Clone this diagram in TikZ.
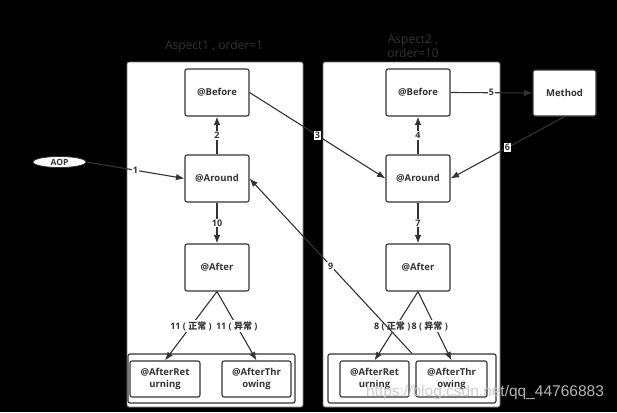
\documentclass[tikz,border=0pt]{standalone}
\usepackage{fontspec}
\setmainfont{Open Sans}
\newfontfamily\cjk{Noto Sans CJK SC}
\newfontfamily\wmfont{Liberation Sans}
\usetikzlibrary{shapes.geometric,arrows.meta}
\definecolor{lc}{RGB}{51,51,51}
\definecolor{tc}{RGB}{52,52,52}
\definecolor{wm}{RGB}{200,200,200}
\begin{document}
\begin{tikzpicture}[x=1pt,y=-1pt,
  box/.style={draw=lc, line width=1.1pt, fill=white, rounded corners=2pt,
    font=\bfseries\fontsize{9.5}{11.5}\selectfont, text=lc, align=center, inner sep=0pt},
  cont/.style={draw=lc!70, fill=white, line width=0.8pt, rounded corners=2pt, inner sep=0pt},
  grp/.style={draw=lc, fill=white, line width=1.1pt, rounded corners=2pt, inner sep=0pt},
  arr/.style={draw=lc, line width=1.1pt, -{Latex[length=8.5pt,width=6.5pt]}},
  lab/.style={fill=white, inner sep=1pt, font=\bfseries\fontsize{9}{10}\selectfont, text=lc},
  ttl/.style={text=tc, font=\fontsize{12}{14.5}\selectfont, align=center, inner sep=0pt},
]
\fill[black] (0,0) rectangle (617,412);
\useasboundingbox (0,0) rectangle (617,412);

% containers
\node[cont, minimum width=176pt, minimum height=345pt] (asp1) at (215,234.5) {};
\node[cont, minimum width=177pt, minimum height=345pt] (asp2) at (411.5,234.5) {};
\node[ttl] (t1) at (214,46) {Aspect1 , order=1};
\node[ttl] (t2) at (413,46) {Aspect2 ,\\ order=10};

% aspect 1
\node[box, minimum width=64pt, minimum height=47pt] (b1) at (217,92.5) {@Before};
\node[box, minimum width=64pt, minimum height=47pt] (a1) at (217,178.5) {@Around};
\node[box, minimum width=64pt, minimum height=47pt] (f1) at (217,267.5) {@After};
\node[grp, minimum width=167pt, minimum height=49pt] (g1) at (211.5,378.5) {};
\node[box, minimum width=70pt, minimum height=36pt] (r1) at (165,379) {@AfterRet\\urning};
\node[box, minimum width=69pt, minimum height=36pt] (h1) at (256.5,379) {@AfterThr\\owing};

% aspect 2
\node[box, minimum width=64pt, minimum height=47pt] (b2) at (418,92.5) {@Before};
\node[box, minimum width=64pt, minimum height=47pt] (a2) at (418,178.5) {@Around};
\node[box, minimum width=64pt, minimum height=47pt] (f2) at (418,267.5) {@After};
\node[grp, minimum width=168pt, minimum height=49pt] (g2) at (412,378.5) {};
\node[box, minimum width=69pt, minimum height=36pt] (r2) at (374.5,379) {@AfterRet\\urning};
\node[box, minimum width=71pt, minimum height=36pt] (h2) at (451.5,379) {@AfterThr\\owing};

% method and AOP
\node[box, minimum width=63pt, minimum height=46pt] (m) at (564.5,93) {Method};
\node[box, ellipse, line width=0.8pt, minimum width=53pt, minimum height=11pt, font=\bfseries\fontsize{8.5}{9}\selectfont] (aop) at (59.5,162) {AOP};

% connectors
\draw[arr] (aop.east) -- node[lab] {1} (a1.west);
\draw[arr] (a1.north) -- node[lab] {2} (b1.south);
\draw[arr] (b1.east) -- node[lab] {3} (a2.west);
\draw[arr] (a2.north) -- node[lab] {4} (b2.south);
\draw[arr] (b2.east) -- node[lab] {5} (m.west);
\draw[arr] (m.south) -- node[lab] {6} (a2.east);
\draw[arr] (a2.south) -- node[lab] {7} (f2.north);
\draw[arr] (f2.south) -- node[lab, xshift=-4pt] {8 ( {\cjk\bfseries 正常} )} (r2.north);
\draw[arr] (f2.south) -- node[lab, xshift=-5pt] {8 ( {\cjk\bfseries 异常} )} (h2.north);
\draw[arr] (a1.south) -- node[lab] {10} (f1.north);
\draw[arr] (f1.south) -- node[lab] {11 ( {\cjk\bfseries 正常} )} (r1.north);
\draw[arr] (f1.south) -- node[lab] {11 ( {\cjk\bfseries 异常} )} (h1.north);
\draw[arr] (g2.north) -- node[lab, pos=0.5] {9} (a1.east);

% watermark
\node[text=wm, opacity=0.9, font=\wmfont\fontsize{15.5}{16}\selectfont, inner sep=0pt] (wmk) at (485,392) {https://blog.csdn.net/qq\_44766883};
\end{tikzpicture}
\end{document}
